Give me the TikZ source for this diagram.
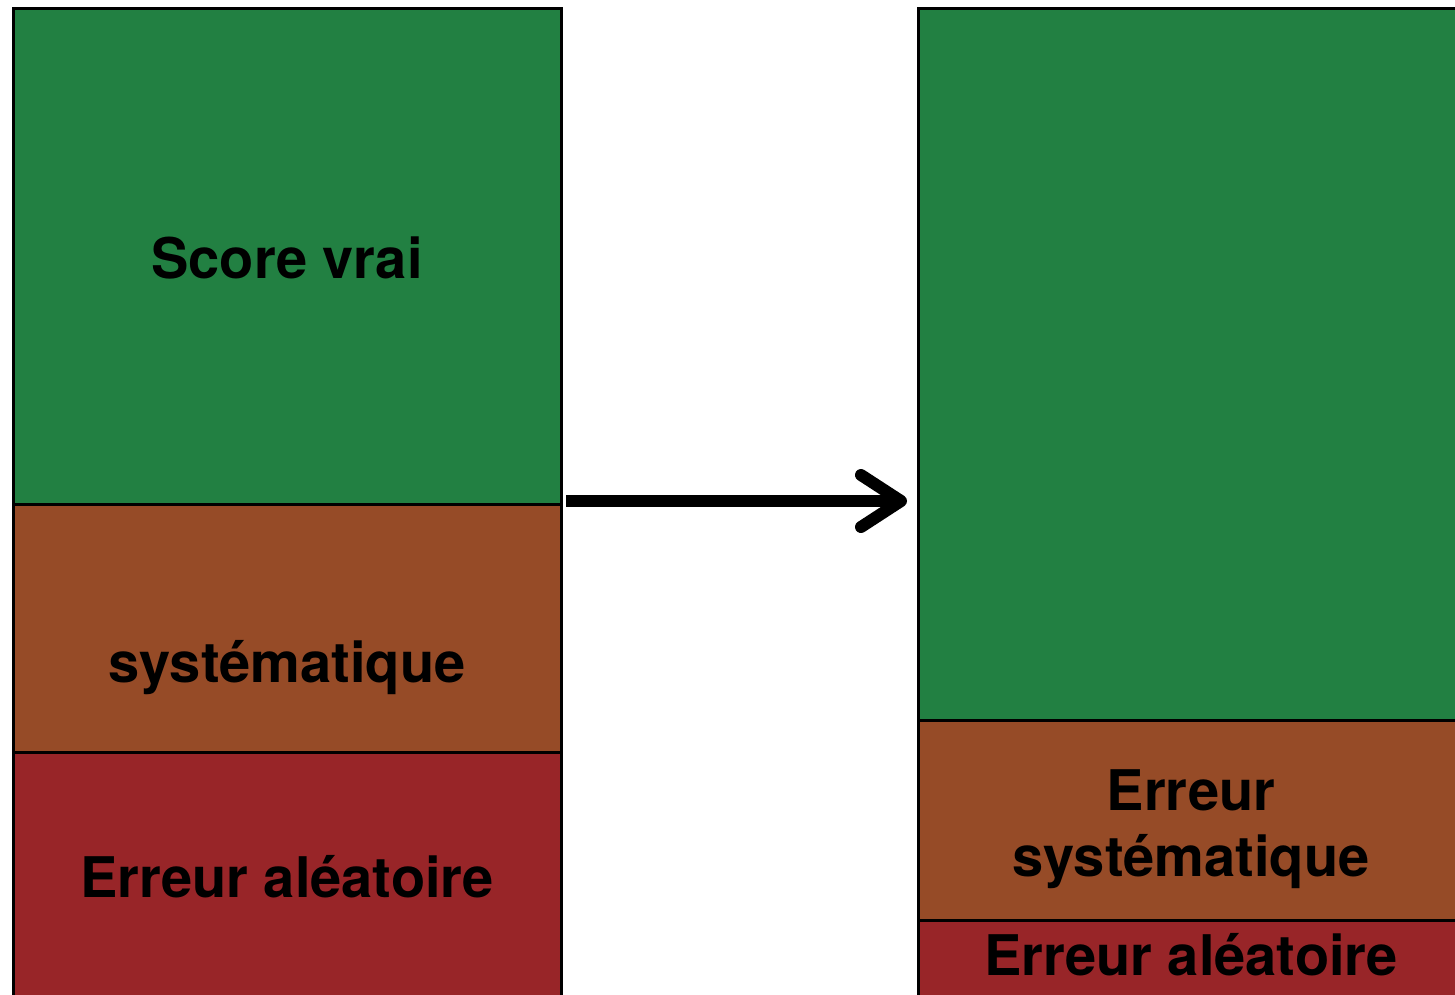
\documentclass[tikz,border=0pt]{standalone}
\usepackage{fontspec}
\setmainfont{TeX Gyre Heros}
\usetikzlibrary{arrows.meta}
\definecolor{vert}{HTML}{228042}
\definecolor{brun}{HTML}{964B27}
\definecolor{rouge}{HTML}{982528}
\tikzset{
  bloc/.style={draw=black, line width=3pt, anchor=north west, inner sep=0pt, outer sep=0pt},
  lab/.style={anchor=base, inner sep=0pt, font=\fontsize{56}{66}\selectfont\bfseries, text=black},
}
\begin{document}
\begin{tikzpicture}[x=1pt,y=-1pt]
\useasboundingbox (0,0) rectangle (1455,994);
\clip (0,0) rectangle (1455,994);
% left column
\node[bloc, fill=vert, minimum width=548pt, minimum height=496pt] (lv) at (13,8) {};
\node[bloc, fill=brun, minimum width=548pt, minimum height=248pt] (lb) at (13,504) {};
\node[bloc, fill=rouge, minimum width=548pt, minimum height=260pt] (lr) at (13,752) {};
% right column
\node[bloc, fill=vert, minimum width=560pt, minimum height=712pt] (rv) at (918,8) {};
\node[bloc, fill=brun, minimum width=560pt, minimum height=200pt] (rb) at (918,720) {};
\node[bloc, fill=rouge, minimum width=560pt, minimum height=90pt] (rr) at (918,920) {};
% labels
\node[lab] (t1) at (287,278) {Score vrai};
\node[lab] (t2) at (287,682) {systématique};
\node[lab] (t3) at (287,897) {Erreur aléatoire};
\node[lab] (t4) at (1191,810) {Erreur};
\node[lab] (t5) at (1191,876) {systématique};
\node[lab] (t6) at (1191,975) {Erreur aléatoire};
% arrow
\coordinate (a0) at (566,501);
\coordinate (a1) at (907,501);
\draw[line width=12pt, -{Straight Barb[length=40pt,width=52pt,round]}] (a0) -- (a1);
\end{tikzpicture}
\end{document}
